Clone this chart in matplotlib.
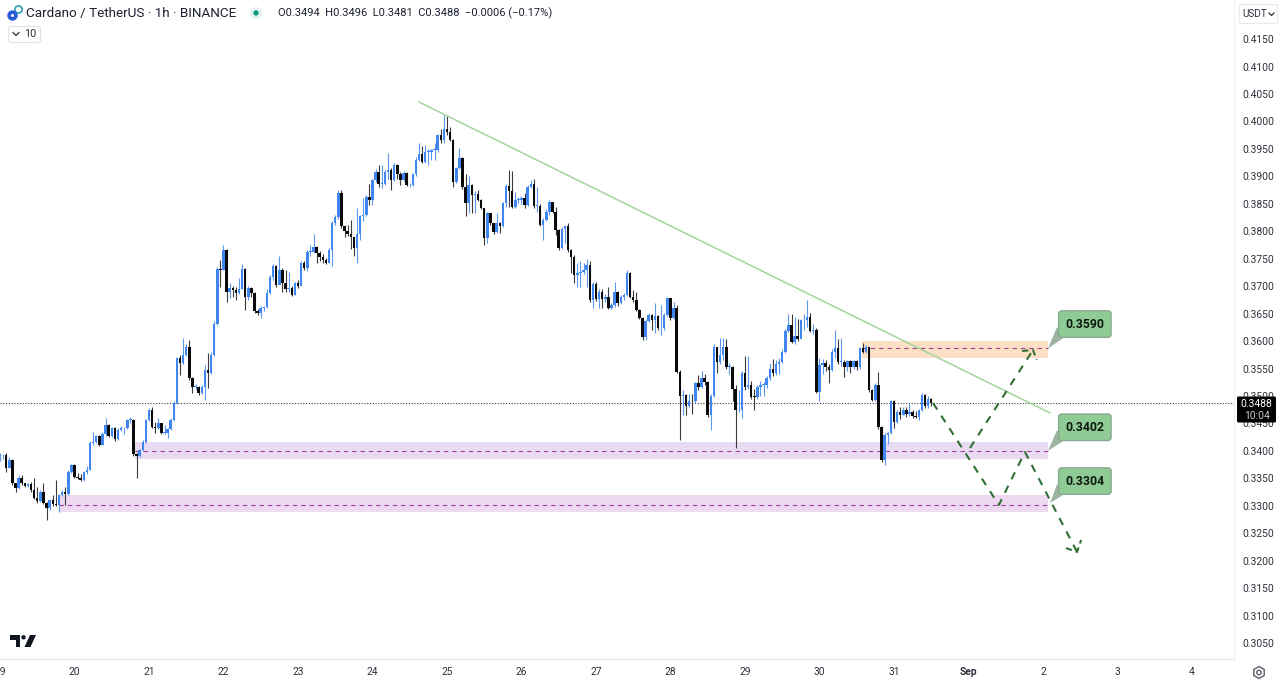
import numpy as np
import matplotlib
matplotlib.use('Agg')
import matplotlib.pyplot as plt
from matplotlib.patches import Polygon, Circle, Rectangle, FancyBboxPatch, RegularPolygon

plt.rcParams['font.family'] = ['Roboto', 'DejaVu Sans']

### DATA (hourly candles, price x 10000) ###
closes = [
    3392, 3393, 3368, 3383, 3341, 3332, 3350, 3341, 3336, 3340,
    3329, 3314, 3308, 3326, 3305, 3296, 3311, 3303, 3302, 3320,
    3326, 3322, 3362, 3374, 3353, 3350, 3347, 3362, 3366, 3414,
    3417, 3427, 3411, 3431, 3447, 3427, 3441, 3421, 3438, 3441,
    3441, 3456, 3456, 3394, 3391, 3402, 3417, 3456, 3475, 3444,
    3442, 3450, 3433, 3433, 3440, 3457, 3488, 3569, 3560, 3575,
    3590, 3532, 3517, 3517, 3505, 3517, 3547, 3541, 3575, 3632,
    3732, 3730, 3766, 3690, 3696, 3693, 3687, 3695, 3731, 3681,
    3696, 3687, 3655, 3651, 3660, 3662, 3687, 3717, 3737, 3702,
    3730, 3706, 3694, 3696, 3684, 3705, 3700, 3743, 3733, 3763,
    3763, 3772, 3760, 3754, 3747, 3743, 3766, 3815, 3826, 3870,
    3810, 3801, 3795, 3789, 3769, 3795, 3827, 3830, 3863, 3857,
    3893, 3908, 3887, 3887, 3908, 3912, 3893, 3921, 3904, 3893,
    3906, 3884, 3885, 3904, 3930, 3940, 3927, 3945, 3945, 3948,
    3948, 3975, 3966, 3987, 3981, 3967, 3890, 3915, 3933, 3881,
    3851, 3884, 3866, 3868, 3857, 3842, 3787, 3833, 3815, 3798,
    3815, 3809, 3851, 3883, 3874, 3845, 3857, 3857, 3860, 3848,
    3881, 3887, 3846, 3846, 3812, 3821, 3836, 3854, 3836, 3802,
    3769, 3805, 3809, 3766, 3754, 3721, 3724, 3725, 3730, 3739,
    3675, 3704, 3676, 3690, 3676, 3681, 3660, 3666, 3690, 3669,
    3681, 3684, 3724, 3681, 3675, 3657, 3642, 3608, 3636, 3648,
    3639, 3645, 3623, 3623, 3648, 3678, 3642, 3660, 3544, 3500,
    3502, 3481, 3491, 3490, 3523, 3517, 3532, 3526, 3465, 3500,
    3590, 3562, 3575, 3590, 3553, 3553, 3512, 3474, 3475, 3542,
    3517, 3520, 3499, 3498, 3517, 3520, 3520, 3532, 3550, 3541,
    3559, 3562, 3581, 3619, 3629, 3599, 3610, 3603, 3638, 3638,
    3644, 3619, 3620, 3508, 3556, 3560, 3552, 3547, 3581, 3587,
    3562, 3562, 3553, 3563, 3552, 3563, 3552, 3587, 3581, 3589,
    3511, 3493, 3520, 3444, 3383, 3429, 3432, 3490, 3453, 3471,
    3465, 3474, 3467, 3471, 3463, 3462, 3474, 3502, 3481, 3494,
    3488,
]
highs = [
    3396, 3395, 3396, 3388, 3386, 3342, 3356, 3356, 3342, 3342,
    3343, 3350, 3335, 3328, 3341, 3306, 3313, 3320, 3347, 3322,
    3328, 3335, 3366, 3377, 3377, 3360, 3358, 3364, 3372, 3418,
    3435, 3429, 3429, 3435, 3459, 3449, 3444, 3443, 3441, 3445,
    3443, 3458, 3462, 3458, 3396, 3404, 3419, 3458, 3478, 3480,
    3453, 3460, 3450, 3448, 3442, 3459, 3490, 3571, 3574, 3605,
    3594, 3602, 3534, 3522, 3519, 3520, 3556, 3578, 3580, 3636,
    3735, 3747, 3775, 3768, 3706, 3700, 3698, 3714, 3741, 3733,
    3700, 3698, 3689, 3658, 3663, 3664, 3695, 3720, 3740, 3739,
    3755, 3733, 3730, 3725, 3700, 3708, 3712, 3745, 3745, 3766,
    3775, 3795, 3773, 3764, 3758, 3752, 3769, 3818, 3830, 3875,
    3875, 3812, 3812, 3820, 3790, 3842, 3830, 3860, 3866, 3887,
    3895, 3913, 3921, 3920, 3911, 3942, 3915, 3925, 3923, 3908,
    3910, 3908, 3888, 3907, 3935, 3960, 3955, 3958, 3950, 3950,
    3960, 3978, 3986, 4012, 4010, 3990, 3969, 3917, 3951, 3935,
    3905, 3900, 3886, 3873, 3875, 3858, 3842, 3835, 3830, 3816,
    3833, 3817, 3854, 3886, 3912, 3909, 3872, 3862, 3865, 3869,
    3884, 3893, 3895, 3880, 3849, 3824, 3840, 3857, 3851, 3845,
    3804, 3808, 3812, 3815, 3768, 3756, 3742, 3745, 3742, 3750,
    3745, 3707, 3708, 3694, 3695, 3685, 3699, 3670, 3708, 3692,
    3684, 3688, 3730, 3726, 3693, 3690, 3659, 3644, 3639, 3652,
    3650, 3669, 3647, 3666, 3651, 3681, 3678, 3672, 3665, 3548,
    3511, 3503, 3503, 3503, 3526, 3538, 3545, 3540, 3527, 3503,
    3595, 3589, 3605, 3605, 3603, 3560, 3555, 3520, 3510, 3546,
    3572, 3572, 3528, 3512, 3520, 3527, 3525, 3536, 3560, 3567,
    3565, 3570, 3585, 3622, 3650, 3649, 3644, 3641, 3641, 3650,
    3675, 3652, 3632, 3623, 3569, 3568, 3565, 3558, 3585, 3621,
    3603, 3605, 3565, 3566, 3565, 3566, 3566, 3590, 3596, 3592,
    3590, 3513, 3524, 3543, 3446, 3432, 3435, 3493, 3492, 3475,
    3480, 3480, 3480, 3487, 3475, 3472, 3477, 3505, 3504, 3500,
    3496,
]
lows = [
    3381, 3386, 3362, 3368, 3337, 3326, 3331, 3338, 3334, 3335,
    3326, 3312, 3305, 3307, 3303, 3274, 3293, 3300, 3300, 3289,
    3318, 3301, 3320, 3360, 3350, 3348, 3345, 3346, 3358, 3365,
    3410, 3414, 3409, 3410, 3428, 3425, 3425, 3418, 3420, 3437,
    3431, 3440, 3450, 3390, 3350, 3388, 3400, 3415, 3455, 3442,
    3433, 3440, 3431, 3431, 3423, 3438, 3455, 3486, 3538, 3558,
    3573, 3529, 3505, 3512, 3502, 3504, 3493, 3514, 3540, 3573,
    3630, 3699, 3730, 3672, 3679, 3680, 3675, 3685, 3695, 3656,
    3675, 3680, 3652, 3648, 3642, 3655, 3660, 3685, 3712, 3699,
    3705, 3690, 3690, 3690, 3682, 3684, 3696, 3702, 3730, 3728,
    3755, 3760, 3742, 3745, 3742, 3741, 3742, 3736, 3812, 3822,
    3806, 3790, 3792, 3768, 3755, 3743, 3785, 3818, 3828, 3848,
    3847, 3890, 3880, 3878, 3885, 3895, 3876, 3892, 3895, 3885,
    3892, 3882, 3880, 3882, 3900, 3928, 3924, 3925, 3920, 3930,
    3929, 3945, 3960, 3960, 3975, 3965, 3880, 3888, 3914, 3877,
    3827, 3833, 3833, 3833, 3855, 3840, 3775, 3778, 3812, 3795,
    3796, 3796, 3807, 3845, 3845, 3842, 3842, 3852, 3850, 3842,
    3846, 3878, 3843, 3835, 3809, 3785, 3818, 3830, 3833, 3793,
    3766, 3767, 3778, 3763, 3724, 3705, 3699, 3699, 3722, 3699,
    3672, 3660, 3673, 3660, 3660, 3672, 3658, 3658, 3662, 3663,
    3668, 3675, 3682, 3678, 3672, 3655, 3640, 3602, 3602, 3634,
    3620, 3614, 3620, 3611, 3621, 3645, 3639, 3640, 3541, 3420,
    3466, 3465, 3480, 3468, 3488, 3510, 3515, 3520, 3462, 3438,
    3498, 3542, 3558, 3565, 3550, 3540, 3490, 3405, 3470, 3459,
    3510, 3512, 3495, 3474, 3494, 3500, 3500, 3515, 3530, 3537,
    3538, 3540, 3560, 3578, 3617, 3596, 3595, 3600, 3615, 3620,
    3625, 3616, 3612, 3505, 3490, 3540, 3545, 3523, 3545, 3570,
    3558, 3555, 3534, 3545, 3541, 3550, 3548, 3550, 3578, 3578,
    3508, 3490, 3490, 3440, 3380, 3374, 3412, 3430, 3441, 3451,
    3458, 3465, 3462, 3463, 3460, 3460, 3456, 3472, 3478, 3479,
    3481,
]
first_open = 3390
last_open = 0.3494
last_price = 0.3488

price_ticks = [0.305 + 0.005 * i for i in range(23)]
day_labels = ['19', '20', '21', '22', '23', '24', '25', '26', '27', '28', '29', '30', '31', 'Sep', '2', '3', '4']
day_hours = [24 * i for i in range(len(day_labels))]

# drawn zones: start hour, end hour, low, high, dashed level
zone_start = [277.7, 43.5, 19]
zone_end = [337.6, 337.6, 337.6]
zone_low = [0.3569, 0.3385, 0.3288]
zone_high = [0.3600, 0.3416, 0.3319]
zone_level = [0.35865, 0.3400, 0.33015]
zone_colors = ['#fcdfc4', '#e9dcf2', '#eed9f1']

trend_hours = [135, 338.3]
trend_prices = [0.40355, 0.3469]

path_a_hours = [300.6, 321.8, 330.2, 347]
path_a_prices = [0.34872, 0.33015, 0.3398, 0.32158]
barb_a_hours = [343.4, 347, 348.3]
barb_a_prices = [0.3223, 0.32158, 0.32377]
path_b_hours = [312.5, 332.8]
path_b_prices = [0.34053, 0.35838]
barb_b_hours = [329.3, 332.8, 334]
barb_b_prices = [0.3582, 0.35838, 0.35656]

callout_text = ['0.3590', '0.3402', '0.3304']
callout_hours = [340.5, 340.5, 340.5]
callout_prices = [0.3631, 0.3443, 0.3345]
callout_tip_hours = [337.6, 337.6, 338.3]
callout_tip_prices = [0.35865, 0.3400, 0.3305]

### FIGURE ###
fig = plt.figure(figsize=(12.8, 6.81), dpi=100)
ax = fig.add_axes([0, 1 - 659 / 681, 1234 / 1280, 659 / 681])
ax.set_xlim(0, 1234 / 3.104)
ax.set_ylim(0.30209, 0.42213)

### CANDLES ###
c = np.array(closes) / 10000
h = np.array(highs) / 10000
l = np.array(lows) / 10000
o = np.concatenate([[first_open / 10000], c[:-1]])
o[-1] = last_open
x = np.arange(len(c))
up = c >= o
colors = np.where(up, '#3f86f0', '#0a0a0a')
wick_colors = np.where(up, '#5c97f2', '#3a3a3a')

for i in range(3):
    ax.add_patch(Rectangle((zone_start[i], zone_low[i]), zone_end[i] - zone_start[i],
                           zone_high[i] - zone_low[i], color=zone_colors[i], lw=0, zorder=1))
    ax.plot([zone_start[i], zone_end[i]], [zone_level[i], zone_level[i]], color='#a23f9c',
            lw=0.8, dashes=(4, 3.5), zorder=2)

ax.vlines(x, l, h, colors=wick_colors, lw=0.8, zorder=3)
ax.bar(x, np.maximum(np.abs(c - o), 0.00012), bottom=np.minimum(o, c), width=0.8, color=colors, lw=0, zorder=4)

### DRAWINGS ###
ax.plot(trend_hours, trend_prices, color='#a3d49c', lw=1.1, zorder=5)
ax.axhline(last_price, color='#3a3a3a', lw=0.8, dashes=(1, 1.5), zorder=2)
green = '#2f6e34'
ax.plot(path_a_hours, path_a_prices, color=green, lw=1.5, dashes=(3.7, 3.5), zorder=6)
ax.plot(path_b_hours, path_b_prices, color=green, lw=1.5, dashes=(3.7, 3.5), zorder=6)
ax.plot(barb_a_hours, barb_a_prices, color=green, lw=1.5, dashes=(3, 2), zorder=6)
ax.plot(barb_b_hours, barb_b_prices, color=green, lw=1.5, dashes=(3, 2), zorder=6)

for i in range(3):
    bx, by = callout_hours[i], callout_prices[i]
    ax.add_patch(Polygon([[bx, by - 0.0006], [bx + 4, by - 0.0018], [callout_tip_hours[i], callout_tip_prices[i]]],
                         closed=True, facecolor='#9db5a0', edgecolor='none', zorder=7))
    ax.text(bx + 9, by, callout_text[i], ha='center', va='center', fontsize=8.8, fontweight='bold', color='#0d1a10',
            zorder=9, bbox=dict(boxstyle='round,pad=0.55,rounding_size=0.25', fc='#8fcb95', ec='#8aa890', lw=1))

### AXES ###
for side in ['top', 'left']:
    ax.spines[side].set_visible(False)
ax.spines['right'].set_color('#f0f1f4')
ax.spines['bottom'].set_color('#e4e6ec')
ax.yaxis.tick_right()
ax.set_yticks(price_ticks)
ax.set_yticklabels(['%.4f' % t for t in price_ticks], fontsize=7.4, color='#2c303a')
ax.set_xticks(day_hours)
ax.set_xticklabels(day_labels, fontsize=7.4, color='#2c303a')
ax.get_xticklabels()[day_labels.index('Sep')].set_fontweight('bold')
ax.tick_params(axis='y', length=0, pad=6)
ax.tick_params(axis='x', length=0, pad=6)

### HEADER / UI ###
ui = fig.add_axes([0, 0, 1, 1], facecolor='none')
ui.set_xlim(0, 1280)
ui.set_ylim(681, 0)
ui.axis('off')

ui.add_patch(Circle((18.5, 9.5), 3.6, fc='none', ec='#2ea0b5', lw=1.2))
ui.add_patch(Circle((12.5, 15.5), 5.2, fc='#2a5bd7', ec='none'))
ui.add_patch(Circle((12.5, 15.5), 1.5, fc='white', ec='none'))
ui.text(26, 13, 'Cardano / TetherUS · 1h · BINANCE', fontsize=9.7, color='#1c2030', va='center')
ui.add_patch(Circle((256, 13), 6, fc='#e2f3ee', ec='none'))
ui.add_patch(Circle((256, 13), 2.6, fc='#089981', ec='none'))
ui.text(278, 13, 'O0.3494  H0.3496  L0.3481  C0.3488  −0.0006 (−0.17%)', fontsize=8.05, color='#1c2030', va='center')
ui.add_patch(FancyBboxPatch((8.5, 26.5), 32, 16, boxstyle='round,pad=0,rounding_size=2', fc='white', ec='#e0e3eb', lw=0.8))
ui.plot([13, 16, 19], [32.5, 35.5, 32.5], color='#2c303a', lw=0.9)
ui.text(24, 34, '10', fontsize=7.8, color='#2c303a', va='center')

# usdt button
ui.add_patch(FancyBboxPatch((1239.5, 4.5), 38, 19, boxstyle='round,pad=0,rounding_size=2', fc='white', ec='#e6e8ee', lw=0.8))
ui.text(1242, 14, 'USDT', fontsize=7.2, color='#2c303a', va='center')
ui.plot([1269, 1271.5, 1274], [13, 15.5, 13], color='#2c303a', lw=0.9)

# last price tag
ui.add_patch(FancyBboxPatch((1237, 396.5), 39, 26, boxstyle='round,pad=0,rounding_size=1.5', fc='black', ec='none'))
ui.text(1256.5, 404, '%.4f' % last_price, fontsize=7.4, color='white', ha='center', va='center')
ui.text(1256.5, 416, '10:04', fontsize=7.4, color='#c4c7cf', ha='center', va='center')

# tv logo
logo = '#131722'
ui.add_patch(Polygon([[10, 635], [20, 635], [20, 647], [15.5, 647], [15.5, 639.5], [10, 639.5]], closed=True, fc=logo, ec='none'))
ui.add_patch(Circle((23.5, 637.3), 2.2, fc=logo, ec='none'))
ui.add_patch(Polygon([[30, 635], [36, 635], [30.5, 647], [24.5, 647]], closed=True, fc=logo, ec='none'))

# settings gear
ui.add_patch(RegularPolygon((1259, 672.5), 6, radius=6, fc='none', ec='#5a5e68', lw=1))
ui.add_patch(Circle((1259, 672.5), 2.2, fc='none', ec='#5a5e68', lw=1))

fig.savefig('out.png', dpi=100)
